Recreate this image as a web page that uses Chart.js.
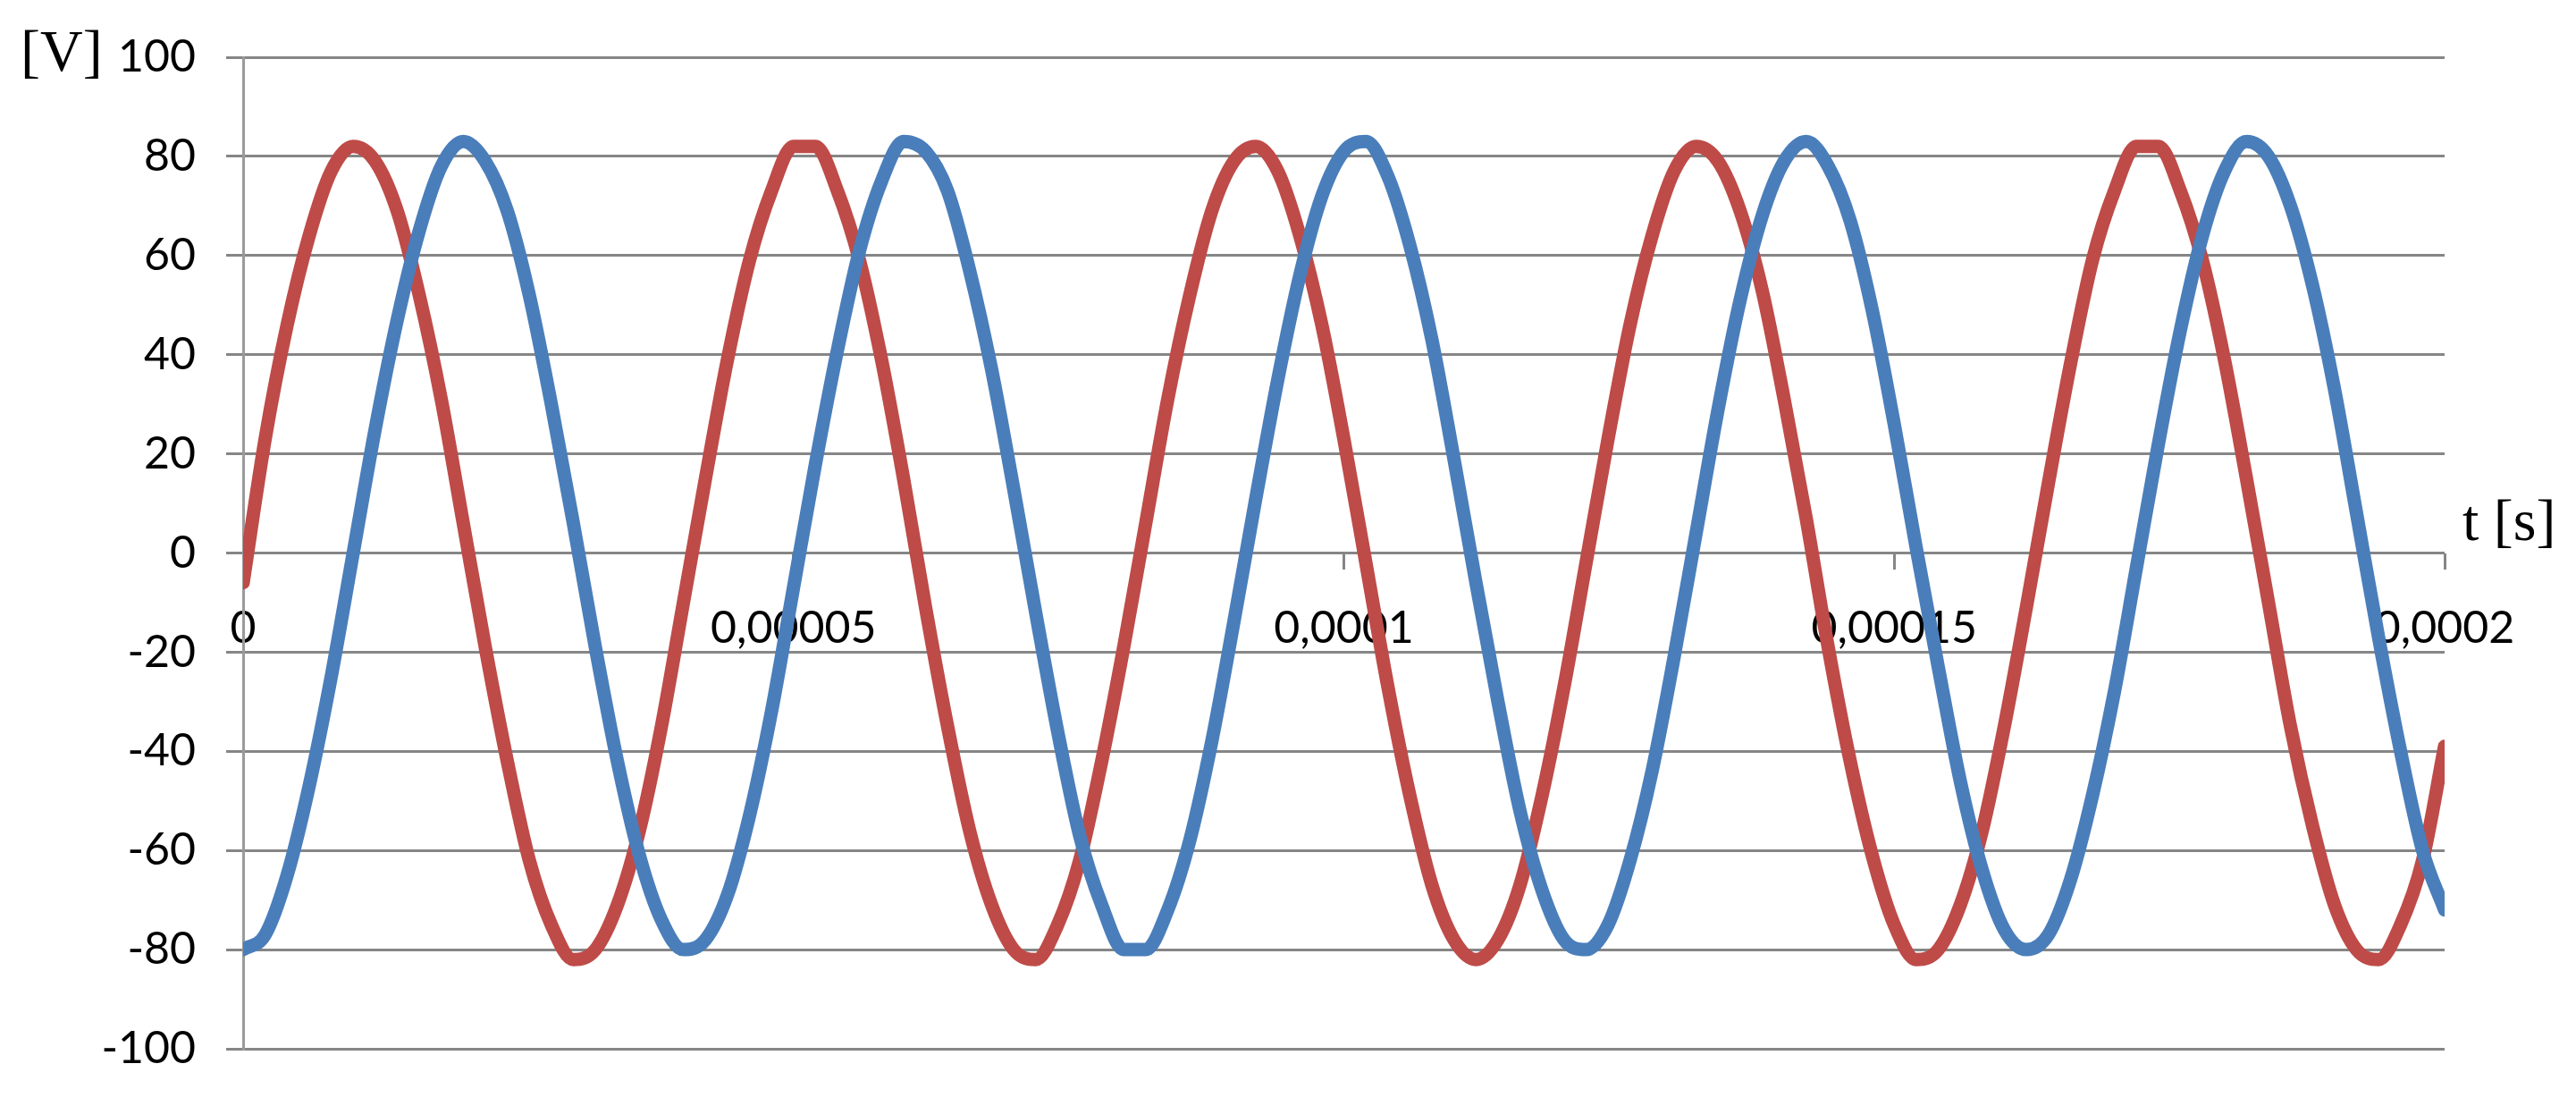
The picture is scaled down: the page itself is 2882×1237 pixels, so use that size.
<!DOCTYPE html>
<html>
<head>
<meta charset="utf-8">
<title>Voltage waveforms</title>
<script src="https://cdn.jsdelivr.net/npm/chart.js@4.4.0/dist/chart.umd.min.js"></script>
<style>
  html, body { margin: 0; padding: 0; background: #ffffff; }
  #wrap { width: 2882px; height: 1237px; position: relative; }
</style>
</head>
<body>
<div id="wrap"><canvas id="voltageChart"></canvas></div>
<script>
// sample times in microseconds (every 2 us)
const timeUs = [
  0, 2, 4, 6, 8, 10, 12, 14, 16, 18, 20, 22, 24, 26, 28, 30, 32, 34, 36, 38,
  40, 42, 44, 46, 48, 50, 52, 54, 56, 58, 60, 62, 64, 66, 68, 70, 72, 74, 76, 78,
  80, 82, 84, 86, 88, 90, 92, 94, 96, 98, 100, 102, 104, 106, 108, 110, 112, 114, 116, 118,
  120, 122, 124, 126, 128, 130, 132, 134, 136, 138, 140, 142, 144, 146, 148, 150, 152, 154, 156, 158,
  160, 162, 164, 166, 168, 170, 172, 174, 176, 178, 180, 182, 184, 186, 188, 190, 192, 194, 196, 198,
  200
];

// red trace [V]
const voltageRed = [
  -6,
  23, 46, 64, 77, 82, 79, 69, 52, 31, 6,
  -19, -42, -62, -75, -82, -80, -71, -56, -35, -10,
  15, 39, 59, 73, 82, 82, 73, 59, 39, 15,
  -11, -35, -56, -71, -80, -82, -75, -62, -42, -19,
  6, 31, 52, 69, 79, 82, 77, 64, 46, 23,
  -2, -27, -49, -67, -78, -82, -78, -67, -49, -27,
  -2, 23, 46, 64, 77, 82, 79, 69, 53, 31,
  7, -19, -42, -61, -75, -82, -80, -71, -56, -35,
  -11, 14, 38, 59, 73, 82, 82, 73, 59, 39,
  15, -10, -35, -55, -71, -80, -82, -75, -62, -39
];

// blue trace [V]
const voltageBlue = [
  -80,
  -77, -65, -47, -25, 0, 25, 47, 65, 78, 83,
  79, 69, 52, 30, 6, -19, -42, -61, -74, -80,
  -78, -69, -53, -32, -7, 18, 41, 61, 75, 83,
  81, 73, 57, 37, 13, -12, -36, -57, -71, -80,
  -80, -72, -58, -38, -14, 11, 35, 56, 72, 81,
  83, 76, 62, 43, 19, -6, -30, -52, -68, -78,
  -80, -75, -62, -44, -21, 4, 29, 51, 68, 79,
  83, 78, 67, 49, 26, 1, -23, -46, -64, -76,
  -80, -77, -66, -49, -28, -3, 22, 45, 64, 77,
  83, 80, 70, 54, 33, 8, -17, -40, -60, -72
];

const xTickLabels = ["0", "0,00005", "0,0001", "0,00015", "0,0002"];

const tickFont = { family: "Lato", size: 50 };

// axis unit labels, drawn next to the axes
const axisTitles = {
  id: "axisTitles",
  afterDraw(chart) {
    const { ctx, chartArea, scales } = chart;
    const zeroY = scales.y.getPixelForValue(0);
    ctx.save();
    ctx.fillStyle = "#000000";
    ctx.font = "66px 'Liberation Serif'";
    ctx.textAlign = "left";
    ctx.textBaseline = "alphabetic";
    ctx.fillText("[V]", chartArea.left - 249, chartArea.top + 15);
    ctx.fillText("t [s]", chartArea.right + 20, zeroY - 15);
    ctx.restore();
  }
};

function toPoints(values) {
  return timeUs.map((t, i) => ({ x: t, y: values[i] }));
}

const ctx = document.getElementById("voltageChart").getContext("2d");
new Chart(ctx, {
  type: "line",
  data: {
    datasets: [
      {
        label: "blue",
        data: toPoints(voltageBlue),
        borderColor: "#4A7EBB",
        borderWidth: 15,
        pointRadius: 0,
        cubicInterpolationMode: "monotone",
        borderJoinStyle: "round",
        borderCapStyle: "round",
        order: 0
      },
      {
        label: "red",
        data: toPoints(voltageRed),
        borderColor: "#BE4B48",
        borderWidth: 15,
        pointRadius: 0,
        cubicInterpolationMode: "monotone",
        borderJoinStyle: "round",
        borderCapStyle: "round",
        order: 1
      }
    ]
  },
  options: {
    responsive: true,
    maintainAspectRatio: false,
    animation: false,
    layout: {
      padding: { left: 0, right: 147, top: 64, bottom: 50 }
    },
    plugins: {
      legend: { display: false },
      tooltip: { enabled: false }
    },
    scales: {
      x: {
        type: "linear",
        position: { y: 0 },
        min: 0,
        max: 200,
        grid: {
          drawOnChartArea: false,
          drawTicks: true,
          tickLength: 18,
          color: "#868686",
          lineWidth: 3
        },
        border: { display: false },
        ticks: {
          stepSize: 50,
          autoSkip: false,
          maxRotation: 0,
          padding: 36,
          color: "#000000",
          font: tickFont,
          callback: (value, index) => xTickLabels[index]
        }
      },
      y: {
        min: -100,
        max: 100,
        afterFit(scale) { scale.width = 272; },
        grid: {
          color: "#868686",
          lineWidth: 3,
          drawTicks: true,
          tickLength: 19
        },
        border: { display: true, color: "#9a9a9a", width: 3 },
        ticks: {
          stepSize: 20,
          padding: 34,
          color: "#000000",
          font: tickFont,
          callback: (value) => String(value)
        }
      }
    }
  },
  plugins: [axisTitles]
});
</script>
</body>
</html>
